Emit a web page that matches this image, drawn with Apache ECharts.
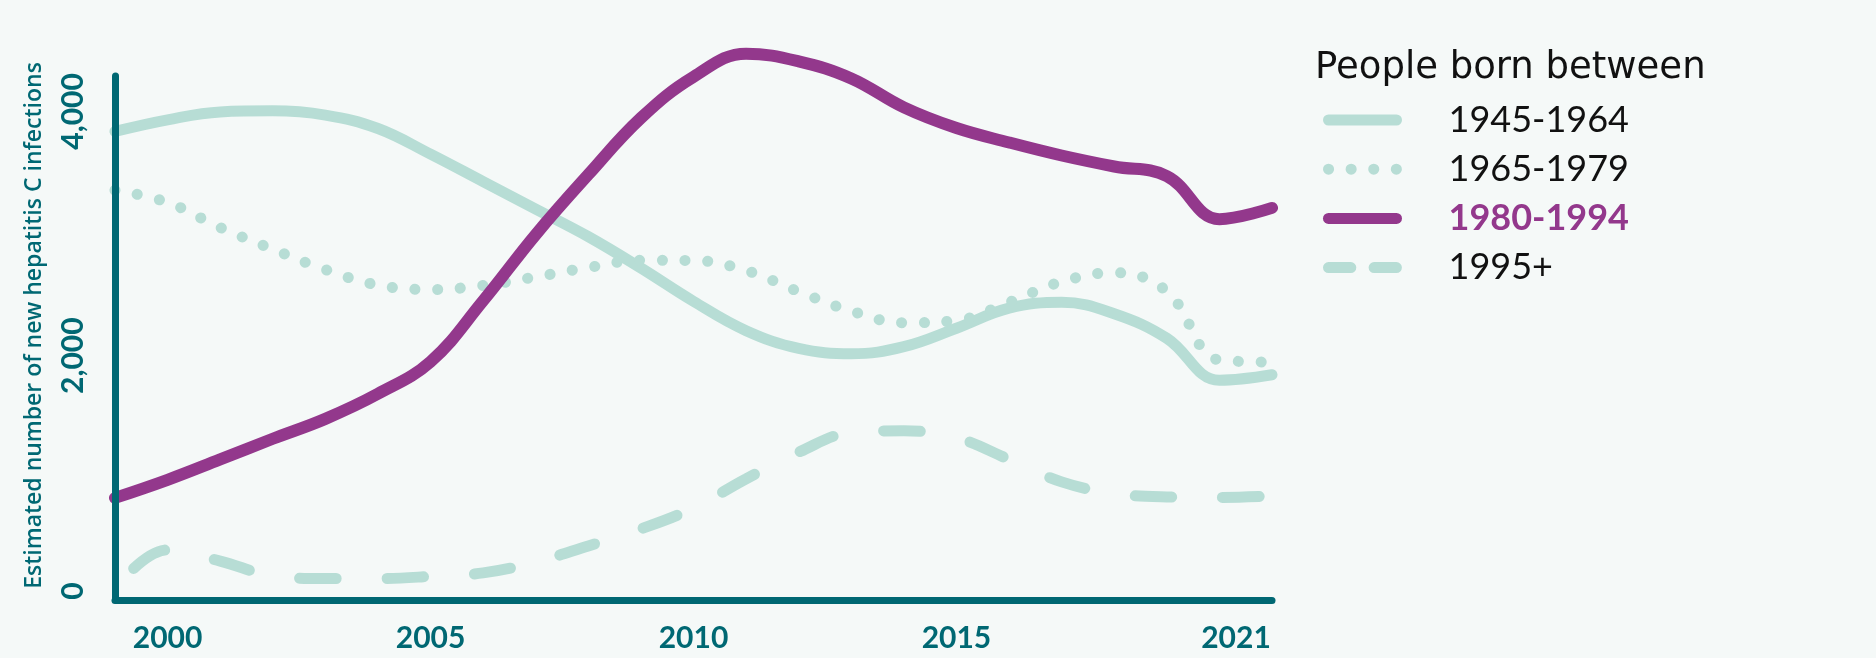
<!DOCTYPE html>
<html>
<head>
<meta charset="utf-8">
<script src="https://cdn.jsdelivr.net/npm/echarts@6/dist/echarts.min.js"></script>
<style>
html,body{margin:0;padding:0;background:#f5f9f8;}
#chart{width:1876px;height:658px;}
</style>
</head>
<body>
<div id="chart"></div>
<script>
const years = [1999,2000,2001,2002,2003,2004,2005,2006,2007,2008,2009,2010,2011,2012,2013,2014,2015,2016,2017,2018,2019,2020,2021];
const born1945 = [3836,3931,3996,4005,3970,3860,3650,3425,3200,2975,2718,2445,2205,2060,2016,2074,2225,2389,2438,2344,2143,1799,1844];
const born1965 = [3355,3255,3049,2872,2705,2578,2542,2575,2645,2722,2781,2780,2697,2525,2366,2270,2289,2438,2606,2680,2527,1965,1948];
const born1980 = [836,984,1151,1320,1483,1688,1951,2450,2992,3483,3946,4283,4473,4410,4270,4033,3864,3746,3639,3549,3471,3118,3210];
const born1995 = [90,410,319,199,176,176,193,222,311,443,582,754,992,1210,1370,1385,1328,1151,967,872,844,840,852];
const seriesNames = ['1945-1964','1965-1979','1980-1994','1995+'];
const xTickValues = [2000,2005,2010,2015,2021];
const yTickValues = [0,2000,4000];

const teal = '#b7ddd5', purple = '#93388c', dark = '#006873';
const pairs = arr => years.map((y,i)=>[y,arr[i]]);

const chart = echarts.init(document.getElementById('chart'));
chart.setOption({
  backgroundColor:'#f5f9f8',
  animation:false,
  title:{text:'People born between', left:1310, top:45,
    textStyle:{fontFamily:'DejaVu Sans', fontWeight:'normal', fontSize:37, lineHeight:36, color:'#111'}},
  legend:{
    orient:'vertical', left:1318, top:95, itemWidth:68, itemHeight:11, itemGap:9.2,
    lineStyle:{width:11, cap:'round', dashOffset:0},
    itemStyle:{opacity:0, borderWidth:0, color:'rgba(0,0,0,0)'},
    data:[
      {name:seriesNames[0]},
      {name:seriesNames[1], lineStyle:{type:[0.1,22.5], dashOffset:0}},
      {name:seriesNames[2]},
      {name:seriesNames[3], lineStyle:{type:[22.3,23.3], dashOffset:0}}
    ],
    formatter: n => n===seriesNames[2] ? '{b|'+n+'}' : n,
    textStyle:{fontFamily:'Lato', fontSize:36, lineHeight:40, color:'#111', padding:[0,0,0,47],
      rich:{b:{fontFamily:'Lato', fontSize:36, lineHeight:40, fontWeight:'bold', color:purple}}}
  },
  grid:{left:115, right:604, top:76, bottom:58, outerBoundsMode:'none', containLabel:false},
  xAxis:{type:'value', min:1999, max:2021, z:10,
    axisLine:{lineStyle:{color:dark, width:7, cap:'round'}},
    axisTick:{show:false}, splitLine:{show:false},
    axisLabel:{customValues:xTickValues, margin:23, fontFamily:'Lato', fontWeight:'bold', fontSize:30, lineHeight:30, color:dark,
      formatter: v => v===2021 ? '{last|'+v+'}' : String(v),
      rich:{last:{fontFamily:'Lato', fontWeight:'bold', fontSize:30, lineHeight:30, color:dark, padding:[0,72,0,0]}}}
  },
  yAxis:{type:'value', min:0, max:4290, interval:2000, z:10,
    name:'Estimated number of new hepatitis C infections', nameLocation:'middle', nameRotate:90, nameGap:69,
    nameTextStyle:{fontFamily:'Open Sans', fontWeight:600, fontSize:23, color:dark, padding:[0,0,0,25]},
    axisLine:{show:true, lineStyle:{color:dark, width:7, cap:'round'}},
    axisTick:{show:false}, splitLine:{show:false},
    axisLabel:{customValues:yTickValues, rotate:90, margin:27, fontFamily:'Lato', fontWeight:'bold', fontSize:30, lineHeight:30, color:dark,
      formatter: v => v===0 ? '{z|0}' : v.toLocaleString('en-US'),
      rich:{z:{fontFamily:'Lato', fontWeight:'bold', fontSize:30, lineHeight:30, color:dark, padding:[0,0,0,18]}}}
  },
  series:[
    {name:seriesNames[0], type:'line', data:pairs(born1945), smooth:0.4, symbol:'none', clip:false, z:2,
      lineStyle:{color:teal, width:11, cap:'round', join:'round'}, itemStyle:{color:teal}},
    {name:seriesNames[1], type:'line', data:pairs(born1965), smooth:0.4, symbol:'none', clip:false, z:2,
      lineStyle:{color:teal, width:11, cap:'round', type:[0.1,22.6]}, itemStyle:{color:teal}},
    {name:seriesNames[3], type:'line', data:pairs(born1995), smooth:0.4, symbol:'none', clip:false, z:2,
      lineStyle:{color:teal, width:11, cap:'round', type:[36.5,51], dashOffset:59.75}, itemStyle:{color:teal}},
    {name:seriesNames[2], type:'line', data:pairs(born1980), smooth:0.4, symbol:'none', clip:false, z:3,
      lineStyle:{color:purple, width:12, cap:'round', join:'round'}, itemStyle:{color:purple}}
  ]
});
</script>
</body>
</html>
